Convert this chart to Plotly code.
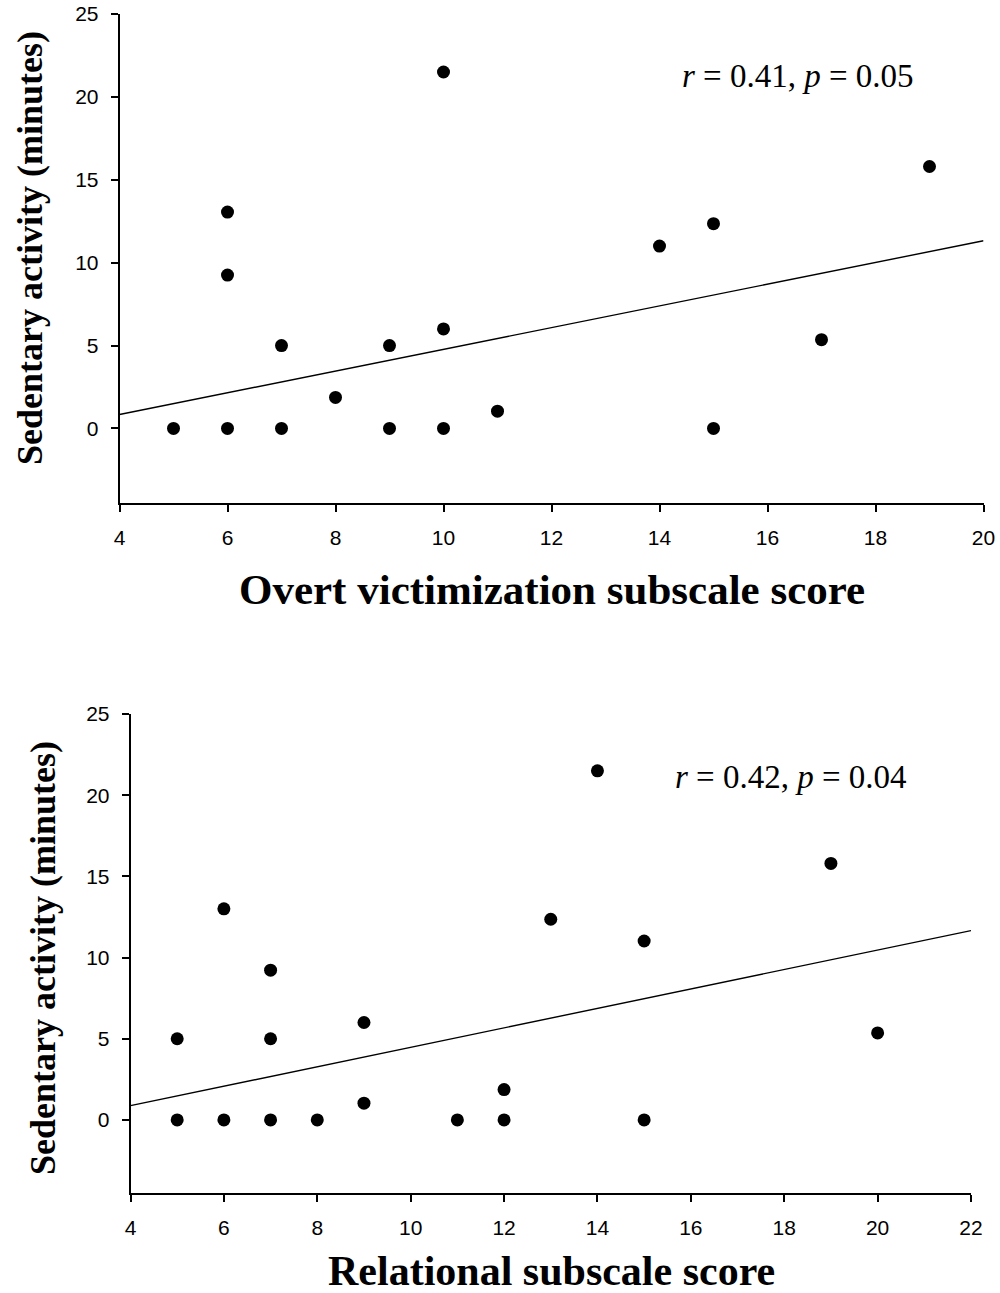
import plotly.graph_objects as go

W, H = 1000, 1293

# ---- Top panel data: Overt victimization ----
overt_x = [5, 6, 7, 9, 10, 8, 11, 6, 6, 7, 9, 10, 10, 14, 15, 19, 17, 15]
overt_y = [0, 0, 0, 0, 0, 1.87, 1.04, 13.05, 9.25, 5.0, 5.0, 6.0, 21.5, 11.0, 12.35, 15.8, 5.35, 0]
overt_fit_x = [4, 20]
overt_fit_y = [0.84, 11.32]
overt_stats = "<i>r</i> = 0.41, <i>p</i> = 0.05"

# ---- Bottom panel data: Relational ----
rel_x = [5, 6, 7, 8, 11, 12, 5, 6, 7, 7, 9, 9, 12, 14, 19, 13, 15, 20, 15]
rel_y = [0, 0, 0, 0, 0, 0, 5.0, 13.0, 9.22, 5.0, 6.0, 1.03, 1.87, 21.5, 15.8, 12.36, 11.02, 5.36, 0]
rel_fit_x = [4, 22]
rel_fit_y = [0.88, 11.66]
rel_stats = "<i>r</i> = 0.42, <i>p</i> = 0.04"

y_ticks = [0, 5, 10, 15, 20, 25]
overt_x_ticks = [4, 6, 8, 10, 12, 14, 16, 18, 20]
rel_x_ticks = [4, 6, 8, 10, 12, 14, 16, 18, 20, 22]

y_title = "Sedentary activity (minutes)"
overt_x_title = "Overt victimization subscale score"
rel_x_title = "Relational subscale score"


def px_x(p):
    return p / W


def px_y(p):
    return 1 - p / H


fig = go.Figure()

marker = dict(color="black", size=13, line=dict(width=0))
fig.add_trace(go.Scatter(x=overt_x, y=overt_y, mode="markers", marker=marker,
                         xaxis="x", yaxis="y", showlegend=False, cliponaxis=False))
fig.add_trace(go.Scatter(x=overt_fit_x, y=overt_fit_y, mode="lines",
                         line=dict(color="black", width=1.4),
                         xaxis="x", yaxis="y", showlegend=False))
fig.add_trace(go.Scatter(x=rel_x, y=rel_y, mode="markers", marker=marker,
                         xaxis="x2", yaxis="y2", showlegend=False, cliponaxis=False))
fig.add_trace(go.Scatter(x=rel_fit_x, y=rel_fit_y, mode="lines",
                         line=dict(color="black", width=1.4),
                         xaxis="x2", yaxis="y2", showlegend=False))

tickfont = dict(family="Liberation Sans, Arial, sans-serif", size=21, color="black")
axis_common = dict(showline=True, linecolor="black", linewidth=1.5, ticks="outside",
                   ticklen=7, tickwidth=1.5, tickcolor="black", showgrid=False,
                   zeroline=False, tickfont=tickfont, fixedrange=True, automargin=False,
                   ticklabelstandoff=8)

fig.update_layout(
    width=W, height=H,
    margin=dict(l=0, r=0, t=0, b=0, pad=0, autoexpand=False),
    paper_bgcolor="white", plot_bgcolor="white",
    xaxis=dict(domain=[px_x(119.5), px_x(983.5)], range=[4, 20], tickvals=overt_x_ticks,
               anchor="y", **axis_common),
    yaxis=dict(domain=[px_y(503), px_y(14)], range=[-4.5, 25], tickvals=y_ticks,
               anchor="x", **axis_common),
    xaxis2=dict(domain=[px_x(130.5), px_x(971)], range=[4, 22], tickvals=rel_x_ticks,
                anchor="y2", **axis_common),
    yaxis2=dict(domain=[px_y(1193), px_y(714)], range=[-4.5, 25], tickvals=y_ticks,
                anchor="x2", **axis_common),
)

title_font_x = dict(family="Liberation Serif, Times New Roman, serif", size=43, color="black")
title_font_x2 = dict(family="Liberation Serif, Times New Roman, serif", size=42, color="black")
title_font_y = dict(family="Liberation Serif, Times New Roman, serif", size=36, color="black")
stat_font = dict(family="Liberation Serif, Times New Roman, serif", size=33, color="black")

annotations = [
    dict(text="<b>" + overt_x_title + "</b>", x=px_x(552), y=px_y(589),
         xref="paper", yref="paper", xanchor="center", yanchor="middle",
         showarrow=False, font=title_font_x),
    dict(text="<b>" + rel_x_title + "</b>", x=px_x(551), y=px_y(1271),
         xref="paper", yref="paper", xanchor="center", yanchor="middle",
         showarrow=False, font=title_font_x2),
    dict(text="<b>" + y_title + "</b>", x=px_x(30), y=px_y(248), textangle=-90,
         xref="paper", yref="paper", xanchor="center", yanchor="middle",
         showarrow=False, font=title_font_y),
    dict(text="<b>" + y_title + "</b>", x=px_x(43), y=px_y(958), textangle=-90,
         xref="paper", yref="paper", xanchor="center", yanchor="middle",
         showarrow=False, font=title_font_y),
    dict(text=overt_stats, x=px_x(798), y=px_y(76),
         xref="paper", yref="paper", xanchor="center", yanchor="middle",
         showarrow=False, font=stat_font),
    dict(text=rel_stats, x=px_x(791), y=px_y(777),
         xref="paper", yref="paper", xanchor="center", yanchor="middle",
         showarrow=False, font=stat_font),
]
fig.update_layout(annotations=annotations)

fig.write_html("out.html", config={"displayModeBar": False},
               post_script="document.body.style.margin='0';document.body.style.overflow='hidden';")
